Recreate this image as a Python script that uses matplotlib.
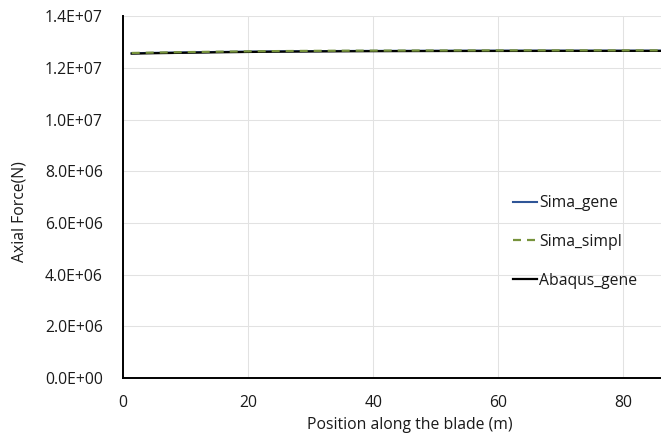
import numpy as np
import matplotlib
matplotlib.use("Agg")
from matplotlib import pyplot as plt
from matplotlib.ticker import FuncFormatter, MultipleLocator

# positions along the blade (m)
position = [1.4, 5, 10, 15, 20, 25, 30, 35, 40, 45, 50, 55, 60, 65, 70, 75, 80, 86]

# axial force (N)
sima_gene = [1.2565e7, 1.2580e7, 1.2598e7, 1.2614e7, 1.2628e7, 1.2638e7, 1.2646e7, 1.2652e7,
             1.2656e7, 1.2659e7, 1.2661e7, 1.2663e7, 1.2664e7, 1.2665e7, 1.2665e7, 1.2665e7,
             1.2665e7, 1.2665e7]
sima_simpl = [1.2575e7, 1.2590e7, 1.2608e7, 1.2624e7, 1.2638e7, 1.2648e7, 1.2656e7, 1.2662e7,
              1.2666e7, 1.2669e7, 1.2671e7, 1.2673e7, 1.2674e7, 1.2675e7, 1.2675e7, 1.2675e7,
              1.2675e7, 1.2675e7]
abaqus_gene = [1.2550e7, 1.2565e7, 1.2583e7, 1.2600e7, 1.2614e7, 1.2625e7, 1.2633e7, 1.2639e7,
               1.2644e7, 1.2647e7, 1.2650e7, 1.2652e7, 1.2653e7, 1.2654e7, 1.2655e7, 1.2655e7,
               1.2655e7, 1.2655e7]

plt.rcParams['font.family'] = ['Open Sans', 'DejaVu Sans']
text_color = "#1a1a1a"
fs = 11.3

fig = plt.figure(figsize=(6.61, 4.36), dpi=100)
ax = fig.add_axes([0.186, 0.133, 0.814, 0.830])

ax.plot(position, sima_gene, color="#2F5597", linewidth=1.5, label="Sima_gene", zorder=3)
ax.plot(position, abaqus_gene, color="black", linewidth=1.6, label="Abaqus_gene", zorder=4)
ax.plot(position, sima_simpl, color="#77933C", linewidth=1.6, linestyle=(0, (3.6, 2.7)),
        label="Sima_simpl", zorder=5)

ax.set_xlim(0, 86)
ax.set_ylim(0, 1.4e7)
ax.xaxis.set_major_locator(MultipleLocator(20))
ax.yaxis.set_major_locator(MultipleLocator(2e6))
ax.yaxis.set_major_formatter(FuncFormatter(lambda v, p: f"{v:.1E}"))

ax.grid(True, color="#E2E2E2", linewidth=0.75)
ax.set_axisbelow(True)
for side in ["top", "right"]:
    ax.spines[side].set_visible(False)
for side in ["left", "bottom"]:
    ax.spines[side].set_color("black")
    ax.spines[side].set_linewidth(1.4)

ax.tick_params(axis="both", length=0, labelsize=fs, labelcolor=text_color)
ax.tick_params(axis="y", pad=14.5)
ax.tick_params(axis="x", pad=12)

ax.set_xlabel("Position along the blade (m)", fontsize=fs, color=text_color)
ax.set_ylabel("Axial Force(N)", fontsize=fs, color=text_color)
ax.xaxis.set_label_coords(0.533, -0.108)
ax.yaxis.set_label_coords(-0.178, 0.46)

handles, labels = ax.get_legend_handles_labels()
order = [labels.index(n) for n in ["Sima_gene", "Sima_simpl", "Abaqus_gene"]]
ax.legend([handles[i] for i in order], [labels[i] for i in order],
          loc="center left", bbox_to_anchor=(0.71, 0.376), frameon=False,
          fontsize=fs, labelspacing=1.45, handlelength=1.53, handletextpad=0.13,
          borderpad=0, labelcolor=text_color)

plt.savefig("out.png", dpi=100)
plt.close()
